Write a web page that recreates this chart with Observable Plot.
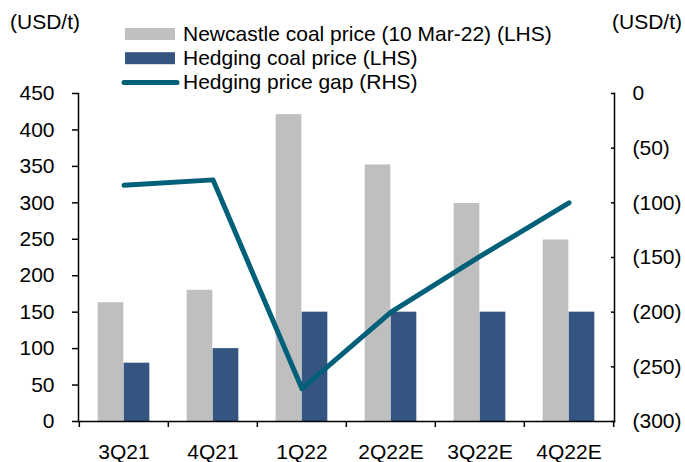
<!DOCTYPE html>
<html><head><meta charset="utf-8">
<script src="https://cdn.jsdelivr.net/npm/d3@7"></script>
<script src="https://cdn.jsdelivr.net/npm/@observablehq/plot@0.6"></script>
<style>
body{margin:0;background:#fff;font-family:"Liberation Sans",Arial,sans-serif;}
#chart{width:685px;height:462px;position:relative;background:#fff;}
#chart svg{display:block;overflow:visible;}
</style></head><body><div id="chart"></div>
<script>
// ---- data ----
const quarters = ["3Q21", "4Q21", "1Q22", "2Q22E", "3Q22E", "4Q22E"];
const newcastlePrice = [163, 180, 421, 352, 299, 249];   // LHS
const hedgingPrice = [80, 100, 150, 150, 150, 150];      // LHS
const priceGap = [-84, -79, -270, -200, -149, -100];     // RHS
const leftTicks = [0, 50, 100, 150, 200, 250, 300, 350, 400, 450];
const rightTicks = [0, -50, -100, -150, -200, -250, -300];
const seriesNames = ["Newcastle coal price (10 Mar-22) (LHS)", "Hedging coal price (LHS)", "Hedging price gap (RHS)"];
const unitLabel = "(USD/t)";

// ---- styles ----
const GRAY = "#bfbfbf", BLUE = "#345580", TEAL = "#00607a";
const FONT = "'Liberation Sans', Arial, sans-serif";
const W = 685, HEADER_H = 86, SVG_H = 462 - HEADER_H;
const ML = 78, MR = 71, MT = 7, MB = 41;
const half = (W - ML - MR) / quarters.length / 2;
const barW = 26;

// map RHS values (0 .. -300) onto the LHS domain (450 .. 0)
const leftMax = 450, rightMin = -300;
const toLeft = v => (v - rightMin) * leftMax / (0 - rightMin);
const fromLeft = v => v * (0 - rightMin) / leftMax + rightMin;
const fmtRight = v => { const r = Math.round(v); return r < 0 ? `(${-r})` : `${r}`; };

const rows = quarters.map((q, i) => ({q, newcastle: newcastlePrice[i], hedging: hedgingPrice[i], gap: toLeft(priceGap[i])}));

// ---- header (units + legend) ----
const chart = d3.select("#chart");
const head = chart.append("svg").attr("width", W).attr("height", HEADER_H)
  .style("font-family", FONT).style("font-size", "21px");
head.append("text").attr("x", 10).attr("y", 28.5).text(unitLabel);
head.append("text").attr("x", 612).attr("y", 28.5).text(unitLabel);
const lg = head.append("g");
const legendItems = [
  {name: seriesNames[0], type: "rect", color: GRAY},
  {name: seriesNames[1], type: "rect", color: BLUE},
  {name: seriesNames[2], type: "line", color: TEAL}
];
legendItems.forEach((it, i) => {
  const base = 41 + i * 24.2;
  const cy = base - 7;
  if (it.type === "rect") {
    lg.append("rect").attr("x", 125).attr("y", cy - 6).attr("width", 50).attr("height", 12).attr("fill", it.color);
  } else {
    lg.append("line").attr("x1", 124).attr("x2", 177).attr("y1", cy).attr("y2", cy)
      .attr("stroke", it.color).attr("stroke-width", 5).attr("stroke-linecap", "round");
  }
  lg.append("text").attr("x", 183).attr("y", base).text(it.name);
});

// ---- plot ----
const plot = Plot.plot({
  width: W,
  height: SVG_H,
  marginLeft: ML, marginRight: MR, marginTop: MT, marginBottom: MB,
  style: {fontFamily: FONT, fontSize: "21px", color: "#000", background: "transparent", overflow: "visible"},
  x: {type: "band", domain: quarters, padding: 0, label: null},
  y: {domain: [0, leftMax], label: null},
  marks: [
    Plot.barY(rows, {x: "q", y: "newcastle", fill: GRAY, insetLeft: half - barW, insetRight: half}),
    Plot.barY(rows, {x: "q", y: "hedging", fill: BLUE, insetLeft: half, insetRight: half - barW}),
    Plot.line(rows, {x: "q", y: "gap", stroke: TEAL, strokeWidth: 5, strokeLinecap: "round", strokeLinejoin: "round"}),
    Plot.frame({anchor: "left", stroke: "#000", strokeWidth: 1.5}),
    Plot.frame({anchor: "right", stroke: "#000", strokeWidth: 1.5}),
    Plot.frame({anchor: "bottom", stroke: "#000", strokeWidth: 1.5}),
    Plot.axisY(leftTicks, {anchor: "left", tickSize: 6, tickPadding: 18, strokeWidth: 1.5, label: null}),
    Plot.axisY(rightTicks.map(toLeft), {anchor: "right", tickSize: 4, insetRight: 4, tickPadding: 18, strokeWidth: 1.5,
      tickFormat: d => fmtRight(fromLeft(d)), label: null}),
    Plot.axisX({tickSize: 0, tickPadding: 23, label: null}),
    Plot.ruleX(quarters, {x: d => d, dx: -half, y1: 0, y2: 0, insetBottom: -6, stroke: "#000", strokeWidth: 1.5}),
    Plot.ruleX(quarters.slice(-1), {x: d => d, dx: half, y1: 0, y2: 0, insetBottom: -6, stroke: "#000", strokeWidth: 1.5})
  ]
});
chart.node().appendChild(plot);
</script></body></html>
